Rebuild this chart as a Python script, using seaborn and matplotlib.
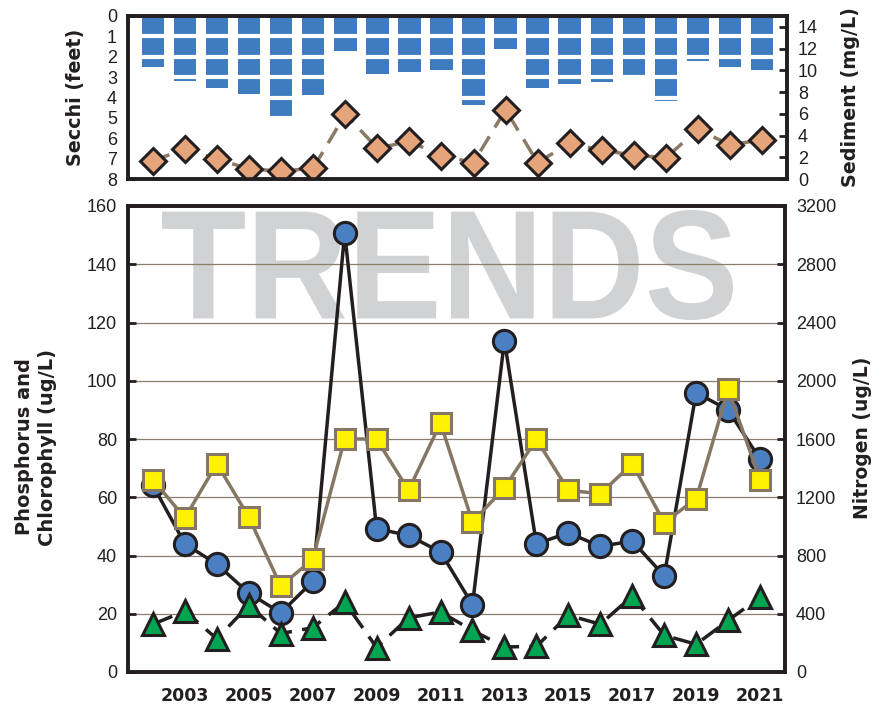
# Lake trends chart: Secchi / sediment on top, nutrients below
import seaborn as sns
import matplotlib.pyplot as plt
from matplotlib.textpath import TextPath
from matplotlib.patches import PathPatch
from matplotlib.font_manager import FontProperties
from matplotlib.transforms import Affine2D

years = list(range(2002, 2022))
secchi = [2.5, 3.2, 3.55, 3.85, 4.95, 3.9, 1.72, 2.83, 2.73, 2.63,
          4.35, 1.6, 3.55, 3.33, 3.23, 2.93, 4.15, 2.22, 2.52, 2.63]
sediment = [1.7, 2.74, 1.82, 0.94, 0.72, 1.0, 5.97, 2.83, 3.46, 2.14,
            1.51, 6.38, 1.51, 3.3, 2.64, 2.2, 1.95, 4.56, 3.14, 3.6]
phosphorus = [64.1, 44.0, 37.0, 27.1, 20.3, 31.1, 150.8, 49.2, 46.9, 41.2,
              23.1, 113.8, 44.0, 47.8, 43.1, 45.0, 33.0, 95.9, 90.0, 73.0]
chlorophyll = [16.4, 20.9, 11.4, 22.9, 13.2, 15.2, 24.0, 8.4, 18.6, 20.6,
               14.3, 8.6, 8.8, 19.5, 16.4, 26.1, 12.6, 9.5, 17.7, 25.7]
nitrogen = [1320, 1058, 1430, 1064, 590, 774, 1602, 1598, 1248, 1710,
            1030, 1264, 1598, 1248, 1224, 1430, 1026, 1190, 1940, 1320]
year_ticks = list(range(2003, 2022, 2))

sns.set_style("white")
plt.rcParams['font.family'] = ['Liberation Sans', 'DejaVu Sans']

W, H = 886, 706
INK = '#231f20'
fig = plt.figure(figsize=(W / 100, H / 100), dpi=100)


def px_box(x0, y0, x1, y1):
    return [x0 / W, 1 - y1 / H, (x1 - x0) / W, (y1 - y0) / H]


ax_top = fig.add_axes(px_box(128, 16, 787, 179))
ax_top2 = ax_top.twinx()
ax_bot = fig.add_axes(px_box(128, 206, 785, 672))
ax_bot2 = ax_bot.twinx()

# --- top panel ---
sns.barplot(x=years, y=secchi, ax=ax_top, native_scale=True, width=0.7,
            color='#3f7cbf', saturation=1, linewidth=0)
for v in range(1, 8):
    ax_top.axhline(v, color='white', lw=3, zorder=2)
ax_top.set_ylim(8, 0)
ax_top.set_yticks(range(0, 9))
ax_top.set_xticks([])

sns.lineplot(x=years, y=sediment, ax=ax_top2, estimator=None, color='#8a7a66',
             linewidth=2.5, linestyle=(0, (5, 3)), marker='D', markersize=13,
             markerfacecolor='#e6a47b', markeredgecolor=INK, markeredgewidth=2.2)
ax_top2.set_ylim(0, 15)
ax_top2.set_yticks(range(0, 15, 2))

# --- bottom panel ---
fp = FontProperties(family='Liberation Sans', weight='bold')
tp = TextPath((0, 0), 'TRENDS', size=100, prop=fp)
ext = tp.get_extents()
sx = (733 - 162) / ext.width
sy = (320 - 210) / ext.height
tr = (Affine2D().translate(-ext.x0, -ext.y0).scale(sx / W, sy / H)
      .translate(162 / W, (H - 320) / H) + fig.transFigure)
ax_bot.add_artist(PathPatch(tp, transform=tr, facecolor='#d1d2d4',
                            edgecolor='none', zorder=0.2))

ax_bot.set_axisbelow(True)
ax_bot.yaxis.grid(True, color='#8b7d6b', lw=0.9)

sns.lineplot(x=years, y=phosphorus, ax=ax_bot, estimator=None, color=INK,
             linewidth=2.5, marker='o', markersize=16,
             markerfacecolor='#4a7fc1', markeredgecolor=INK, markeredgewidth=2.2,
             zorder=3)
sns.lineplot(x=years, y=chlorophyll, ax=ax_bot, estimator=None, color=INK,
             linewidth=2.5, linestyle=(0, (6, 3)), marker='^', markersize=16,
             markerfacecolor='#00a551', markeredgecolor=INK, markeredgewidth=2.2,
             zorder=4)
sns.lineplot(x=years, y=nitrogen, ax=ax_bot2, estimator=None, color='#857763',
             linewidth=2.5, marker='s', markersize=14,
             markerfacecolor='#fff200', markeredgecolor='#857763',
             markeredgewidth=2.2)

ax_bot.set_ylim(0, 160)
ax_bot.set_yticks(range(0, 161, 20))
ax_bot2.set_ylim(0, 3200)
ax_bot2.set_yticks(range(0, 3201, 400))
ax_bot.set_xticks(year_ticks)
ax_bot.set_xticklabels([str(y) for y in year_ticks], fontfamily='DejaVu Sans',
                       fontweight='bold', fontsize=12.5)

for ax in (ax_top, ax_top2, ax_bot, ax_bot2):
    ax.set_xlim(2001.22, 2021.78)
    ax.set_xlabel('')
    ax.set_ylabel('')
    for sp in ax.spines.values():
        sp.set_linewidth(2.6)
        sp.set_color(INK)
        sp.set_visible(True)
    ax.tick_params(axis='y', direction='in', length=6, width=2, labelsize=13,
                   pad=8, color=INK, labelcolor=INK)
ax_bot.tick_params(axis='x', direction='in', length=8, width=2.5, pad=11,
                   color=INK, labelcolor=INK)
ax_top.tick_params(axis='x', length=0)

# --- axis titles ---
lab = dict(fontfamily='DejaVu Sans', fontweight='bold', rotation=90,
           ha='center', va='center', color=INK)
fig.text(76 / W, 1 - 97 / H, 'Secchi (feet)', fontsize=13.8, **lab)
fig.text(850 / W, 1 - 97 / H, 'Sediment (mg/L)', fontsize=13.8, **lab)
fig.text(36 / W, 1 - 447 / H, 'Phosphorus and\nChlorophyll (ug/L)',
         fontsize=14, multialignment='center', linespacing=1.3, **lab)
fig.text(862 / W, 1 - 438 / H, 'Nitrogen (ug/L)', fontsize=13.5, **lab)

fig.savefig('out.png', dpi=100)
